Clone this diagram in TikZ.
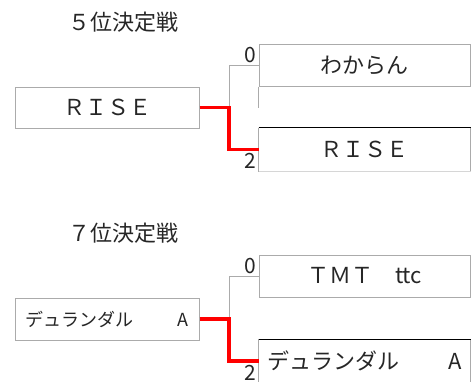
\documentclass[tikz,border=0pt]{standalone}
\usepackage{fontspec}
\usetikzlibrary{calc}
\setmainfont{Noto Sans CJK JP}
\definecolor{bordergray}{HTML}{ABABAB}
\definecolor{lightgray2}{HTML}{D6D6D6}
\definecolor{txt}{HTML}{262626}
\definecolor{winred}{HTML}{FF0000}
\begin{document}
\begin{tikzpicture}[x=1pt,y=-1pt,
  cell/.style={draw=bordergray, line width=1pt, minimum height=42pt, minimum width=211pt, inner sep=0pt, text=txt, font=\fontsize{22}{26}\selectfont},
  leftcell/.style={cell, minimum width=184pt},
  title/.style={anchor=west, inner sep=0pt, text=txt, font=\fontsize{22}{26}\selectfont},
  score/.style={anchor=east, inner sep=0pt, text=txt, font=\fontsize{21}{25}\selectfont},
  loser/.style={draw=bordergray, line width=1pt},
  winner/.style={draw=winred, line width=3.5pt},
]
\useasboundingbox (0,0) rectangle (476,381);
\clip (0,0) rectangle (476,381);

% ---------- 5th place ----------
\node[title] (t5) at (68,22) {５位決定戦};
\node[leftcell, minimum height=41pt] (a1) at (107,107.5) {ＲＩＳＥ};
\node[cell] (a2) at (364.5,65) {わからん};
\node[cell, draw=none, minimum height=43pt] (a3) at (364.5,149.5) {ＲＩＳＥ};
\draw[bordergray, line width=1pt] (a3.north west) -- (a3.south west);
\draw[bordergray, line width=1pt] (a3.north east) -- (a3.south east);
\draw[lightgray2, line width=1pt] (a3.south west) -- (a3.south east);
\draw[black, line width=1pt] (a3.north west) -- (a3.north east);
\coordinate (a2stub) at ($(a2.south west)+(0,21)$);
\draw[bordergray, line width=1pt] (a2.south west) -- (a2stub);
\coordinate (j1) at (229,107.5);
\draw[loser] (a2.west) -| (j1);
\draw[winner] (a1.east) -- (j1) |- (a3.west);
\node[score] (s1) at (256,55) {0};
\node[score] (s2) at (256,161) {2};

% ---------- 7th place ----------
\node[title] (t7) at (68,233) {７位決定戦};
\node[leftcell, text width=163pt, inner xsep=10.5pt, align=left, font=\fontsize{18}{22}\selectfont] (b1) at (107,319) {デュランダル\hfill A};
\node[cell] (b2) at (364.5,276) {ＴＭＴ　ttc};
\node[cell, draw=none, minimum height=43pt, text width=194pt, inner xsep=8.5pt, align=left] (b3) at (364.5,361) {デュランダル\hfill A};
\coordinate (b3bl) at ($(b3.north west)+(0,60)$);
\coordinate (b3br) at ($(b3.north east)+(0,60)$);
\draw[bordergray, line width=1pt] (b3.north west) -- (b3bl);
\draw[bordergray, line width=1pt] (b3.north east) -- (b3br);
\draw[black, line width=1pt] (b3.north west) -- (b3.north east);
\coordinate (j2) at (229,319);
\draw[loser] (b2.west) -| (j2);
\draw[winner] (b1.east) -- (j2) |- (b3.west);
\node[score] (s3) at (256,266) {0};
\node[score] (s4) at (256,373) {2};
\end{tikzpicture}
\end{document}
